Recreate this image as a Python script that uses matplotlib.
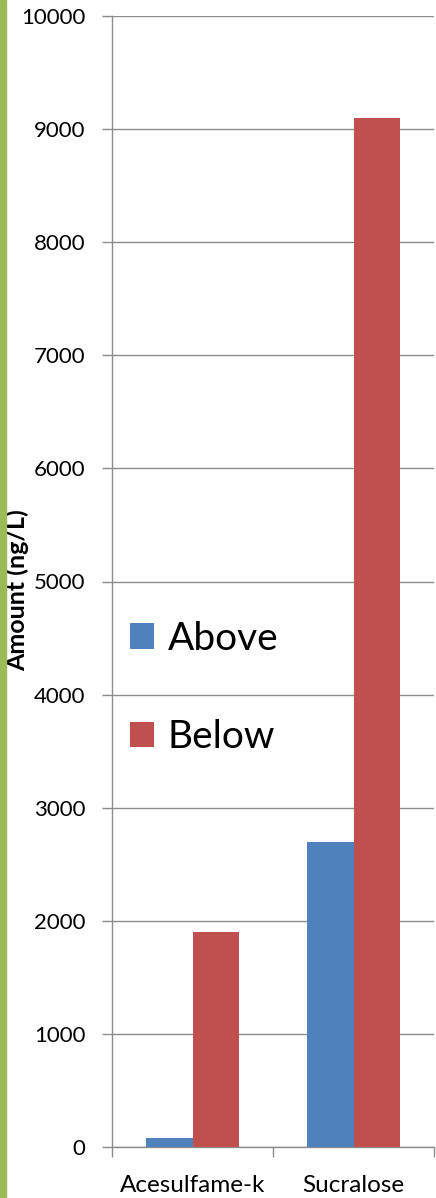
import matplotlib.pyplot as plt
import matplotlib.patches as mpatches
import numpy as np

plt.rcParams['font.family'] = ['Lato', 'DejaVu Sans']

# Chart data
categories = ['Acesulfame-k', 'Sucralose']
above = [80, 2700]
below = [1900, 9100]
y_ticks = list(range(0, 10001, 1000))

BLUE = '#4F81BD'
RED = '#C0504D'
GRID = '#8C8C8C'

fig = plt.figure(figsize=(4.36, 11.98), dpi=100)
# green strip on the left edge
fig.patches.append(mpatches.Rectangle((0, 0), 6 / 436, 1, transform=fig.transFigure,
                                      color='#9BBB59', zorder=0))

ax = fig.add_axes([112 / 436, 1 - 1147 / 1198, 322 / 436, 1131 / 1198])

x = np.arange(len(categories))
w = 0.287
ax.bar(x - w / 2, above, w, color=BLUE, label='Above', zorder=3)
ax.bar(x + w / 2, below, w, color=RED, label='Below', zorder=3)

ax.set_xlim(-0.5, len(categories) - 0.5)
ax.set_ylim(0, 10000)
ax.set_yticks(y_ticks)
ax.tick_params(axis='y', labelsize=16, length=7, width=1, color=GRID, pad=12)
ax.yaxis.grid(True, color=GRID, linewidth=1.0, zorder=0)

ax.set_xticks(np.arange(-0.5, len(categories), 1.0))
ax.set_xticklabels([])
ax.set_xticks(x, minor=True)
ax.set_xticklabels(categories, minor=True, fontsize=17.5)
ax.tick_params(axis='x', which='major', length=7, width=1, color=GRID)
ax.tick_params(axis='x', which='minor', length=0, pad=20)

for s in ['top', 'right']:
    ax.spines[s].set_visible(False)
for s in ['left', 'bottom']:
    ax.spines[s].set_color(GRID)
    ax.spines[s].set_linewidth(1.0)

ax.set_ylabel('Amount (ng/L)', fontsize=18, fontweight='bold')
ax.yaxis.set_label_coords((29 - 112) / 322, 0.492)

ax.legend(loc='center left', bbox_to_anchor=(0.055, 0.406), frameon=False,
          fontsize=28, handlelength=0.62, handleheight=0.62, handletextpad=0.35,
          labelspacing=1.6, borderpad=0, borderaxespad=0)

fig.savefig('out.png', dpi=100)
